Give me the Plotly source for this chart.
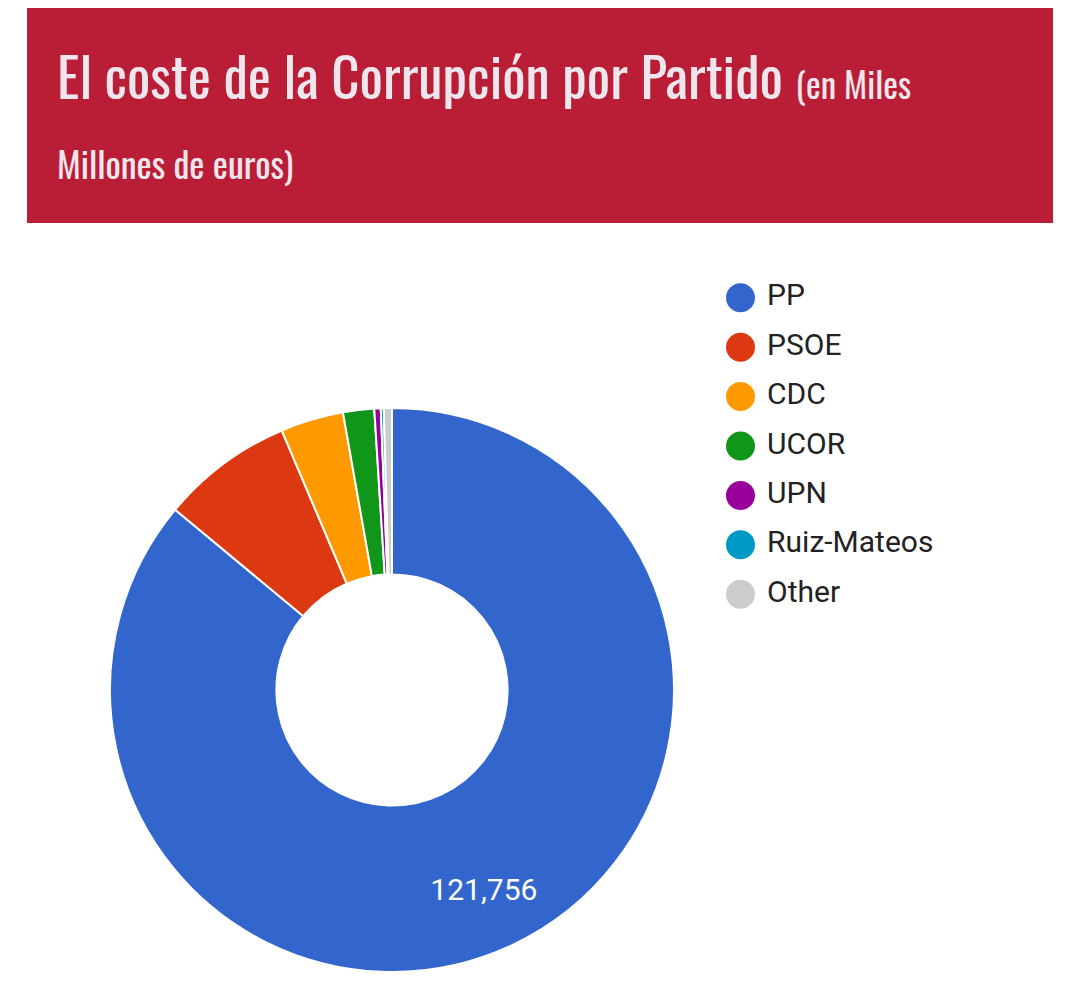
import plotly.graph_objects as go

# ---- data ----
partidos = ["PP", "PSOE", "CDC", "UCOR", "UPN", "Ruiz-Mateos", "Other"]
coste = [121756, 10700, 5110, 2520, 520, 240, 660]
colores = ["#3366cc", "#dc3912", "#ff9900", "#109618", "#990099", "#0099c6", "#cccccc"]
etiquetas = ["&nbsp;<br>&nbsp;&nbsp;%{value:,}", "", "", "", "", "", ""]

titulo = "El coste de la Corrupción por Partido"
subtitulo_a = "(en Miles"
subtitulo_b = "Millones de euros)"

# page offset (body margin of the html page)
OX, OY = 8, 8
W, H = 1062, 977
TITLE_FONT = "Oswald, 'Liberation Sans Narrow', 'DejaVu Sans Condensed', 'Roboto Condensed', sans-serif"
BODY_FONT = "Roboto, Arial, sans-serif"


def px(x):
    return (x - OX) / W


def py(y):
    return 1 - (y - OY) / H


fig = go.Figure()

# donut
cx, cy, r = 392, 690, 282
fig.add_trace(go.Pie(
    labels=partidos,
    values=coste,
    marker=dict(colors=colores, line=dict(color="white", width=2)),
    hole=0.41,
    sort=False,
    direction="clockwise",
    rotation=0,
    texttemplate=etiquetas,
    textposition="inside",
    insidetextorientation="horizontal",
    textfont=dict(family=BODY_FONT, size=30, color="white"),
    domain=dict(x=[px(cx - r), px(cx + r)], y=[py(cy + r), py(cy - r)]),
    showlegend=False,
    hoverinfo="label+value+percent",
))

# legend built as a scatter of the categories
fig.add_trace(go.Scatter(
    x=[0] * len(partidos),
    y=list(range(len(partidos))),
    mode="markers+text",
    text=partidos,
    texttemplate=" %{text}",
    textposition="middle right",
    textfont=dict(family=BODY_FONT, size=30, color="#222222"),
    marker=dict(color=colores, size=29, line=dict(width=0)),
    cliponaxis=False,
    showlegend=False,
    hoverinfo="skip",
))

lx0 = 700  # left edge of legend area (screen px)
lx_marker = 740.5
frac = (lx_marker - lx0) / (OX + W - lx0)
rng0 = -frac / (1 - frac)

fig.update_layout(
    width=W, height=H,
    margin=dict(l=0, r=0, t=0, b=0),
    paper_bgcolor="white",
    plot_bgcolor="white",
    xaxis=dict(domain=[px(lx0), 1.0], range=[rng0, 1], visible=False, fixedrange=True),
    yaxis=dict(domain=[py(619), py(273)], range=[6.5, -0.5], visible=False, fixedrange=True),
    shapes=[dict(type="rect", xref="paper", yref="paper",
                 x0=px(27), x1=px(1053), y0=py(223), y1=py(4),
                 fillcolor="#ba1e36", line=dict(width=0), layer="below")],
    annotations=[
        dict(xref="paper", yref="paper", x=px(55), y=py(74), xanchor="left", yanchor="middle",
             showarrow=False,
             text=titulo + " <span style='font-size:35px'>" + subtitulo_a + "</span>",
             font=dict(family=TITLE_FONT, size=55, color="#eee6ec")),
        dict(xref="paper", yref="paper", x=px(55), y=py(162), xanchor="left", yanchor="middle",
             showarrow=False, text=subtitulo_b,
             font=dict(family=TITLE_FONT, size=36, color="#eee6ec")),
    ],
)

fig.write_html("out.html")
